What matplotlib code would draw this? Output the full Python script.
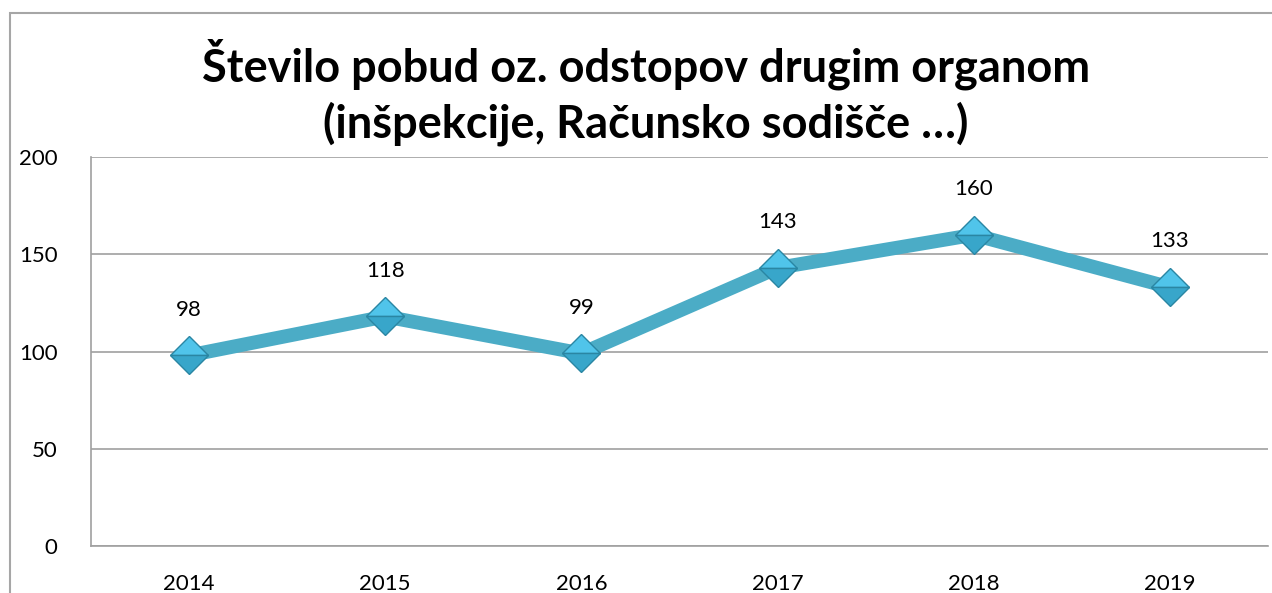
import matplotlib.pyplot as plt
from matplotlib.patches import Rectangle

leta = ['2014', '2015', '2016', '2017', '2018', '2019']
pobude = [98, 118, 99, 143, 160, 133]
y_ticks = [0, 50, 100, 150, 200]

plt.rcParams['font.family'] = ['Lato', 'DejaVu Sans']

fig = plt.figure(figsize=(12.72, 5.93), dpi=100)
ax = fig.add_axes([91/1272, 1 - 546/593, 1177/1272, 389/593])

# okvir grafikona
fig.patches.append(Rectangle((10/1272, -0.2), 1.2, 1.2 - 13/593, transform=fig.transFigure,
                             fill=False, edgecolor='#a6a6a6', linewidth=1.5))

x = range(len(leta))
ax.plot(x, pobude, color='#4bacc6', linewidth=10, solid_joinstyle='miter', zorder=3)
ax.plot(x, pobude, linestyle='none', marker='D', markersize=19, fillstyle='top',
        markerfacecolor='#50c4ea', markerfacecoloralt='#38a6ca',
        markeredgecolor='#2a86a3', markeredgewidth=1.0, zorder=4)
for i, v in enumerate(pobude):
    ax.annotate(str(v), (i, v), xytext=(0, 33), textcoords='offset points',
                ha='center', va='center', fontsize=16)

ax.set_xlim(-0.5, len(leta) - 0.5)
ax.set_ylim(0, 200)
ax.set_xticks(list(x))
ax.set_xticklabels(leta)
ax.set_yticks(y_ticks)
ax.tick_params(length=0, labelsize=16)
ax.tick_params(axis='y', pad=24)
ax.tick_params(axis='x', pad=20)
ax.grid(axis='y', color='#a0a0a0', linewidth=1.2)
ax.set_axisbelow(True)
for s in ['top', 'right']:
    ax.spines[s].set_visible(False)
for s in ['left', 'bottom']:
    ax.spines[s].set_color('#a0a0a0')
    ax.spines[s].set_linewidth(1.2)

fig.text(0.508, 1 - 64/593, 'Število pobud oz. odstopov drugim organom',
         ha='center', va='center', fontsize=32.5, fontweight='bold')
fig.text(0.508, 1 - 124/593, '(inšpekcije, Računsko sodišče …)',
         ha='center', va='center', fontsize=32.5, fontweight='bold')

fig.savefig('out.png', dpi=100)
